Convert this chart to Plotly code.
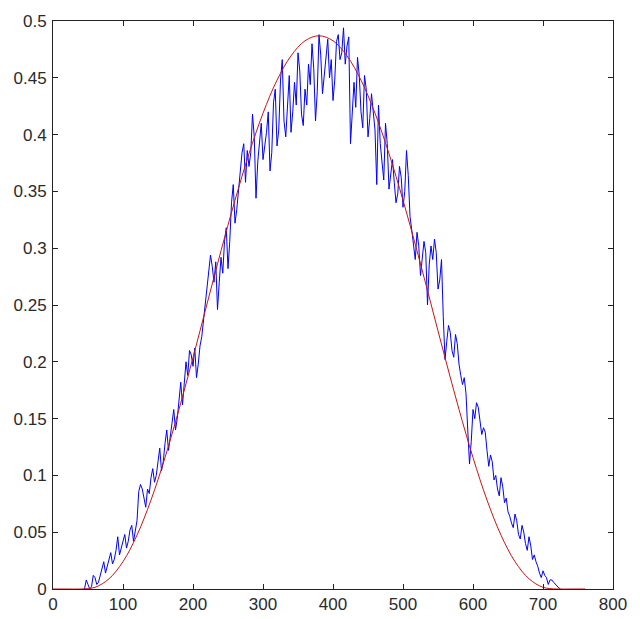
import plotly.graph_objects as go

# Measured signal (noisy): samples on a 5-unit grid starting at x=45 ...
meas_y_grid = [
    0.000, 0.004, 0.002, 0.010, 0.006, 0.018, 0.014, 0.026, 0.022, 0.034,
    0.030, 0.044, 0.036, 0.052, 0.042, 0.060, 0.092, 0.078, 0.088, 0.098,
    0.094, 0.112, 0.104, 0.128, 0.122, 0.146, 0.140, 0.168, 0.162, 0.200,
    0.210, 0.196, 0.186, 0.214, 0.236, 0.262, 0.294, 0.270, 0.246, 0.292,
    0.306, 0.282, 0.340, 0.322, 0.350, 0.384, 0.358, 0.372, 0.418, 0.344,
    0.396, 0.378, 0.402, 0.368, 0.428, 0.390, 0.448, 0.412, 0.430, 0.402,
    0.446, 0.472, 0.418, 0.440, 0.462, 0.480, 0.412, 0.488, 0.436, 0.474,
    0.450, 0.430, 0.482, 0.466, 0.494, 0.478, 0.392, 0.446, 0.468, 0.420,
    0.452, 0.398, 0.436, 0.404, 0.426, 0.374, 0.410, 0.352, 0.378, 0.340,
    0.372, 0.336, 0.386, 0.328, 0.300, 0.314, 0.276, 0.306, 0.250, 0.302,
    0.308, 0.264, 0.290, 0.202, 0.232, 0.210, 0.224, 0.198, 0.180, 0.172,
    0.110, 0.158, 0.164, 0.148, 0.142, 0.122, 0.118, 0.096, 0.088, 0.098,
    0.076, 0.068, 0.058, 0.066, 0.048, 0.056, 0.040, 0.046, 0.026, 0.024,
    0.014, 0.016, 0.010, 0.008, 0.006, 0.002, 0.000,
]
# ... and the samples halfway between them (x=47.5, 52.5, ...)
meas_y_half = [
    0.008, 0.000, 0.012, 0.004, 0.012, 0.024, 0.020, 0.032, 0.026, 0.046,
    0.036, 0.048, 0.042, 0.056, 0.050, 0.086, 0.088, 0.072, 0.084, 0.106,
    0.100, 0.124, 0.112, 0.140, 0.132, 0.158, 0.150, 0.182, 0.178, 0.188,
    0.206, 0.212, 0.198, 0.222, 0.248, 0.276, 0.284, 0.288, 0.270, 0.278,
    0.318, 0.306, 0.356, 0.334, 0.364, 0.392, 0.386, 0.384, 0.398, 0.376,
    0.410, 0.388, 0.420, 0.384, 0.440, 0.404, 0.466, 0.398, 0.452, 0.420,
    0.426, 0.456, 0.408, 0.426, 0.444, 0.458, 0.438, 0.470, 0.452, 0.484,
    0.466, 0.448, 0.488, 0.472, 0.462, 0.486, 0.418, 0.424, 0.452, 0.406,
    0.440, 0.414, 0.420, 0.356, 0.392, 0.360, 0.392, 0.366, 0.358, 0.348,
    0.362, 0.350, 0.364, 0.316, 0.290, 0.302, 0.292, 0.296, 0.286, 0.290,
    0.296, 0.272, 0.240, 0.218, 0.226, 0.204, 0.216, 0.188, 0.186, 0.140,
    0.130, 0.150, 0.160, 0.136, 0.138, 0.108, 0.112, 0.100, 0.082, 0.090,
    0.080, 0.064, 0.054, 0.060, 0.044, 0.050, 0.034, 0.038, 0.030, 0.020,
    0.010, 0.012, 0.004, 0.008, 0.004, 0.001,
]

meas_x, meas_y = [], []
for i, v in enumerate(meas_y_grid):
    meas_x.append(45 + 5 * i)
    meas_y.append(v)
    if i < len(meas_y_half):
        meas_x.append(47.5 + 5 * i)
        meas_y.append(meas_y_half[i])

# Fitted curve sampled every 20 units (0 ... 760)
fit_y = [
    0.0, 0.0, 0.0, 0.0015, 0.009, 0.0241, 0.0474, 0.0783, 0.1157, 0.1581,
    0.2037, 0.2509, 0.2977, 0.3423, 0.3832, 0.4188, 0.4479, 0.4693, 0.4826, 0.487,
    0.4826, 0.4693, 0.4479, 0.4188, 0.3832, 0.3423, 0.2977, 0.2509, 0.2037, 0.1581,
    0.1157, 0.0783, 0.0474, 0.0241, 0.009, 0.0015, 0.0, 0.0, 0.0,
]
fit_x = [20 * i for i in range(len(fit_y))]

x_ticks = list(range(0, 900, 100))
y_ticks = [0, 0.05, 0.1, 0.15, 0.2, 0.25, 0.3, 0.35, 0.4, 0.45, 0.5]
y_labels = ["0", "0.05", "0.1", "0.15", "0.2", "0.25", "0.3", "0.35", "0.4", "0.45", "0.5"]

fig = go.Figure()
fig.add_trace(go.Scatter(x=meas_x, y=meas_y, mode="lines",
                         line=dict(color="#0000ff", width=1)))
fig.add_trace(go.Scatter(x=fit_x, y=fit_y, mode="lines",
                         line=dict(color="#c81414", width=1, shape="spline")))

axis_common = dict(
    showgrid=False, zeroline=False, showline=True, linecolor="#222",
    linewidth=1, mirror="ticks", ticks="inside", ticklen=5,
    tickcolor="#222", automargin=False,
    tickfont=dict(family="Liberation Sans", size=17, color="#2a2a2a"),
)
fig.update_xaxes(range=[0, 800], tickvals=x_ticks, **axis_common)
fig.update_yaxes(range=[0, 0.5], tickvals=y_ticks, ticktext=y_labels,
                 ticklabelstandoff=2, **axis_common)

fig.update_layout(
    width=640, height=619,
    margin=dict(l=53, r=27, t=21, b=30),
    paper_bgcolor="white", plot_bgcolor="white",
    showlegend=False,
)

fig.write_html("out.html")
